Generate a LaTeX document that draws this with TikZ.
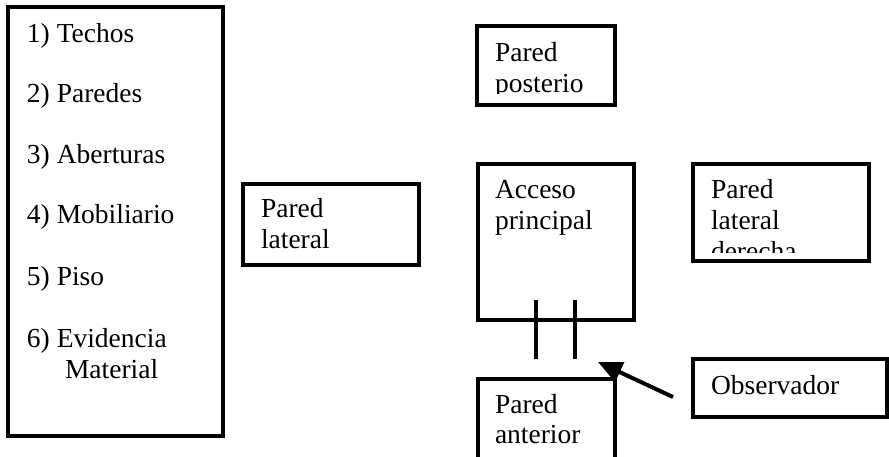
\documentclass[tikz,border=0pt]{standalone}
\usepackage{fontspec}
\setmainfont{Liberation Serif}
\usetikzlibrary{arrows.meta}
\tikzset{
  x=1pt,y=-1pt,
  wallbox/.style={draw=black,fill=white,line width=4pt,rectangle,inner sep=0pt,outer sep=0pt,line join=miter},
  lbl/.style={anchor=base west,inner sep=0pt,outer sep=0pt,font=\fontsize{27.5}{30}\selectfont,text=black},
  doorline/.style={draw=black,line width=4pt},
  pointer/.style={draw=black,line width=4pt,-{Triangle[length=24pt,width=21pt]}}
}
\begin{document}
\begin{tikzpicture}
\path[use as bounding box,clip] (0,0) rectangle (889,456);
\node[wallbox,minimum width=215pt,minimum height=429pt] (lista) at (115.5,221.5) {};
\node[wallbox,minimum width=176pt,minimum height=81pt] (lateral) at (331,224) {};
\node[wallbox,minimum width=138pt,minimum height=79pt] (posterior) at (546,65.5) {};
\node[wallbox,minimum width=156pt,minimum height=155.5pt] (acceso) at (556,241.75) {};
\node[wallbox,minimum width=176pt,minimum height=97pt] (derecha) at (781,212.5) {};
\node[wallbox,minimum width=137pt,minimum height=100pt] (anterior) at (546.5,429) {};
\node[wallbox,minimum width=194pt,minimum height=58pt] (observador) at (790,388) {};

\coordinate (d1a) at (536,300); \coordinate (d1b) at (536,359);
\coordinate (d2a) at (575,300); \coordinate (d2b) at (575,359);
\draw[doorline] (d1a) -- (d1b);
\draw[doorline] (d2a) -- (d2b);
\coordinate (obsTail) at (673,397); \coordinate (obsTip) at (598,362);
\draw[pointer] (obsTail) -- (obsTip);

\node[lbl] (l1) at (27,42) {1) Techos};
\node[lbl] (l2) at (27,102) {2) Paredes};
\node[lbl] (l3) at (27,163) {3) Aberturas};
\node[lbl] (l4) at (27,223) {4) Mobiliario};
\node[lbl] (l5) at (27,285) {5) Piso};
\node[lbl] (l6) at (27,347) {6) Evidencia};
\node[lbl] (l7) at (65,378) {Material};

\node[lbl] (t1) at (261,217) {Pared};
\node[lbl] (t2) at (261,248) {lateral};
\node[lbl] (t3) at (495,198) {Acceso};
\node[lbl] (t4) at (495,229) {principal};
\node[lbl] (t5) at (495,413) {Pared};
\node[lbl] (t6) at (495,443) {anterior};
\node[lbl] (t7) at (711,394) {Observador};
\node[lbl] (t8) at (495,61) {Pared};
\begin{scope}
\clip (480,30) rectangle (612,93);
\node[lbl] (t9) at (495,92) {posterio};
\end{scope}
\node[lbl] (t10) at (711,198) {Pared};
\node[lbl] (t11) at (711,229) {lateral};
\begin{scope}
\clip (696,230) rectangle (866,252);
\node[lbl] (t12) at (711,260) {derecha};
\end{scope}
\end{tikzpicture}
\end{document}
